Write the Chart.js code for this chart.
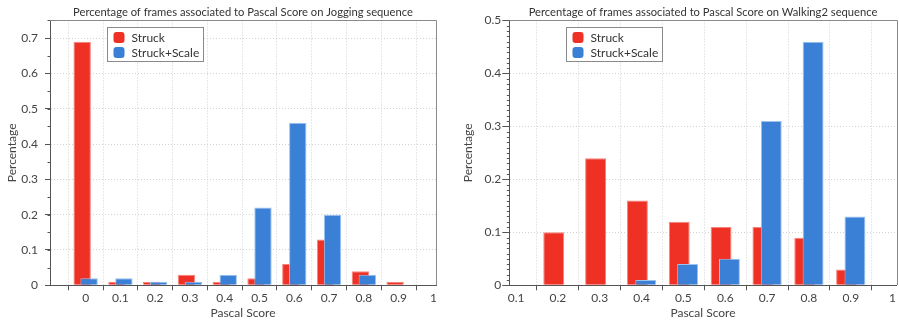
<!DOCTYPE html>
<html><head><meta charset="utf-8">
<script src="https://cdn.jsdelivr.net/npm/chart.js@4.4.0/dist/chart.umd.min.js"></script>
<style>
html,body{margin:0;padding:0;background:#fff;overflow:hidden}
#c1{position:absolute;left:0;top:0}
#c2{position:absolute;left:450px;top:0}
</style></head><body>
<canvas id="c1" width="450" height="320"></canvas>
<canvas id="c2" width="449" height="320"></canvas>
<script>
// ---- data ----
const seriesNames = ['Struck', 'Struck+Scale'];
const joggingTitle = 'Percentage of frames associated to Pascal Score on Jogging sequence';
const walkingTitle = 'Percentage of frames associated to Pascal Score on Walking2 sequence';
const joggingScores = [0, 0.1, 0.2, 0.3, 0.4, 0.5, 0.6, 0.7, 0.8, 0.9, 1];
const joggingStruck = [0.69, 0.01, 0.01, 0.03, 0.01, 0.02, 0.06, 0.13, 0.04, 0.01, 0];
const joggingStruckScale = [0.02, 0.02, 0.01, 0.01, 0.03, 0.22, 0.46, 0.20, 0.03, 0, 0];
const joggingYTicks = [0, 0.1, 0.2, 0.3, 0.4, 0.5, 0.6, 0.7];
const walkingScores = [0.1, 0.2, 0.3, 0.4, 0.5, 0.6, 0.7, 0.8, 0.9, 1];
const walkingStruck = [0, 0.10, 0.24, 0.16, 0.12, 0.11, 0.11, 0.09, 0.03, 0];
const walkingStruckScale = [0, 0, 0, 0.01, 0.04, 0.05, 0.31, 0.46, 0.13, 0];
const walkingYTicks = [0, 0.1, 0.2, 0.3, 0.4, 0.5];

// ---- style ----
const FONT = 'Lato, "Open Sans", sans-serif';
const RED = '#ee3124', RED_EDGE = '#f5857c';
const BLUE = '#3a80d6', BLUE_EDGE = '#9cc2ee';
const AXIS = '#555', GRID = '#d2d2d2', FRAME = '#8a8a8a', TXT = '#444';
const BAR_SHIFT = 0.01; // horizontal offset of each series from its score (axis units)

const fmt = v => String(+(+v).toFixed(2));

const framePlugin = {
  id: 'frame',
  afterDatasetsDraw(chart) {
    const {ctx, chartArea: a} = chart;
    ctx.save();
    ctx.strokeStyle = FRAME; ctx.lineWidth = 1;
    ctx.beginPath();
    ctx.moveTo(Math.round(a.left), Math.round(a.top) + 0.5);
    ctx.lineTo(Math.round(a.right) + 0.5, Math.round(a.top) + 0.5);
    ctx.lineTo(Math.round(a.right) + 0.5, Math.round(a.bottom));
    ctx.stroke();
    ctx.restore();
  }
};

const minorTickPlugin = {
  id: 'minorTicks',
  afterDraw(chart, args, o) {
    const y = chart.scales.y, ctx = chart.ctx;
    ctx.save();
    ctx.strokeStyle = AXIS; ctx.lineWidth = 1;
    ctx.beginPath();
    const n = Math.round(y.max / o.step);
    for (let k = 0; k <= n; k++) {
      const py = Math.round(y.getPixelForValue(k * o.step)) + 0.5;
      ctx.moveTo(y.right - o.len, py);
      ctx.lineTo(y.right, py);
    }
    ctx.stroke();
    ctx.restore();
  }
};

const boxLegendPlugin = {
  id: 'boxLegend',
  afterDraw(chart, args, o) {
    const {ctx, chartArea: a} = chart;
    const x = Math.round(a.left + o.dx) + 0.5, y = Math.round(a.top + o.dy) + 0.5;
    ctx.save();
    ctx.fillStyle = '#fff';
    ctx.fillRect(x, y, o.w, o.h);
    ctx.strokeStyle = FRAME; ctx.lineWidth = 1;
    ctx.strokeRect(x, y, o.w, o.h);
    ctx.font = '12px ' + FONT;
    ctx.textBaseline = 'middle';
    seriesNames.forEach((name, i) => {
      const ds = chart.data.datasets.find(d => d.label === name);
      const cy = y + 10 + i * 15;
      ctx.fillStyle = ds.backgroundColor;
      ctx.beginPath();
      ctx.roundRect(x + 6, cy - 5.5, 11, 11, 3);
      ctx.fill();
      ctx.fillStyle = '#333';
      ctx.fillText(name, x + 24, cy + 0.5);
    });
    ctx.restore();
  }
};

function makeChart(id, p) {
  const setTicks = s => { s.ticks = p.scores.map(v => ({value: v})); };
  const hiddenX = shift => ({
    type: 'linear', display: false, offset: false,
    min: p.xMin + shift, max: p.xMax + shift,
    afterBuildTicks: setTicks
  });
  return new Chart(document.getElementById(id), {
    type: 'bar',
    data: {
      labels: p.scores,
      datasets: [
        {label: seriesNames[0], data: p.red, xAxisID: 'xRed', order: 1,
         backgroundColor: RED, borderColor: RED_EDGE, borderWidth: 1},
        {label: seriesNames[1], data: p.blue, xAxisID: 'xBlue', order: 0,
         backgroundColor: BLUE, borderColor: BLUE_EDGE, borderWidth: 1}
      ]
    },
    options: {
      responsive: false,
      animation: false,
      devicePixelRatio: 1,
      layout: {padding: {left: 0, right: p.rightPad, top: 0, bottom: 0}},
      datasets: {bar: {grouped: false, categoryPercentage: 1, barPercentage: 0.5}},
      plugins: {
        legend: {display: false},
        tooltip: {enabled: false},
        title: {
          display: true, text: p.title, color: '#333', fullSize: false,
          font: {family: FONT, size: 11.2, weight: 'normal'},
          padding: {top: 6, bottom: 1}
        },
        minorTicks: {step: p.minorStep, len: 2.5},
        boxLegend: {dx: 57, dy: 6.5, w: 96, h: 34}
      },
      scales: {
        x: {
          type: 'linear', min: p.xMin, max: p.xMax, offset: false,
          afterBuildTicks: setTicks,
          afterFit: s => { s.height = 34.7; },
          grid: {offset: true, color: GRID, tickColor: AXIS, tickLength: 5, tickBorderDash: [], lineWidth: 1},
          border: {color: AXIS, dash: [1, 2], width: 1},
          ticks: {autoSkip: false, maxRotation: 0, color: TXT, padding: 1, font: {family: FONT, size: 12}, callback: fmt},
          title: {display: true, text: 'Pascal Score', color: TXT, font: {family: FONT, size: 12}, padding: {top: 0, bottom: 0}}
        },
        xRed: hiddenX(BAR_SHIFT),
        xBlue: hiddenX(-BAR_SHIFT),
        y: {
          type: 'linear', min: 0, max: p.yMax,
          afterBuildTicks: s => { s.ticks = p.yTicks.map(v => ({value: v})); },
          afterFit: s => { s.width = p.yWidth; },
          grid: {color: GRID, tickColor: AXIS, tickLength: p.majorLen, tickBorderDash: [], lineWidth: 1},
          border: {color: AXIS, dash: [1, 2], width: 1},
          ticks: {color: TXT, padding: p.labelPad, font: {family: FONT, size: 12}, callback: fmt},
          title: {display: true, text: 'Percentage', color: TXT, font: {family: FONT, size: 12}, padding: {top: p.yTitleTop, bottom: 0}}
        }
      }
    },
    plugins: [framePlugin, minorTickPlugin, boxLegendPlugin]
  });
}

makeChart('c1', {
  title: joggingTitle, scores: joggingScores, red: joggingStruck, blue: joggingStruckScale,
  xMin: -0.1025, xMax: 1.0075, yMax: 0.75, yTicks: joggingYTicks, minorStep: 0.05,
  yWidth: 50, rightPad: 14, majorLen: 5, labelPad: 7, yTitleTop: 5
});
makeChart('c2', {
  title: walkingTitle, scores: walkingScores, red: walkingStruck, blue: walkingStruckScale,
  xMin: 0.0838, xMax: 1.0098, yMax: 0.5, yTicks: walkingYTicks, minorStep: 0.01,
  yWidth: 59.3, rightPad: 2.3, majorLen: 7, labelPad: 1, yTitleTop: 11
});
</script>
</body></html>
